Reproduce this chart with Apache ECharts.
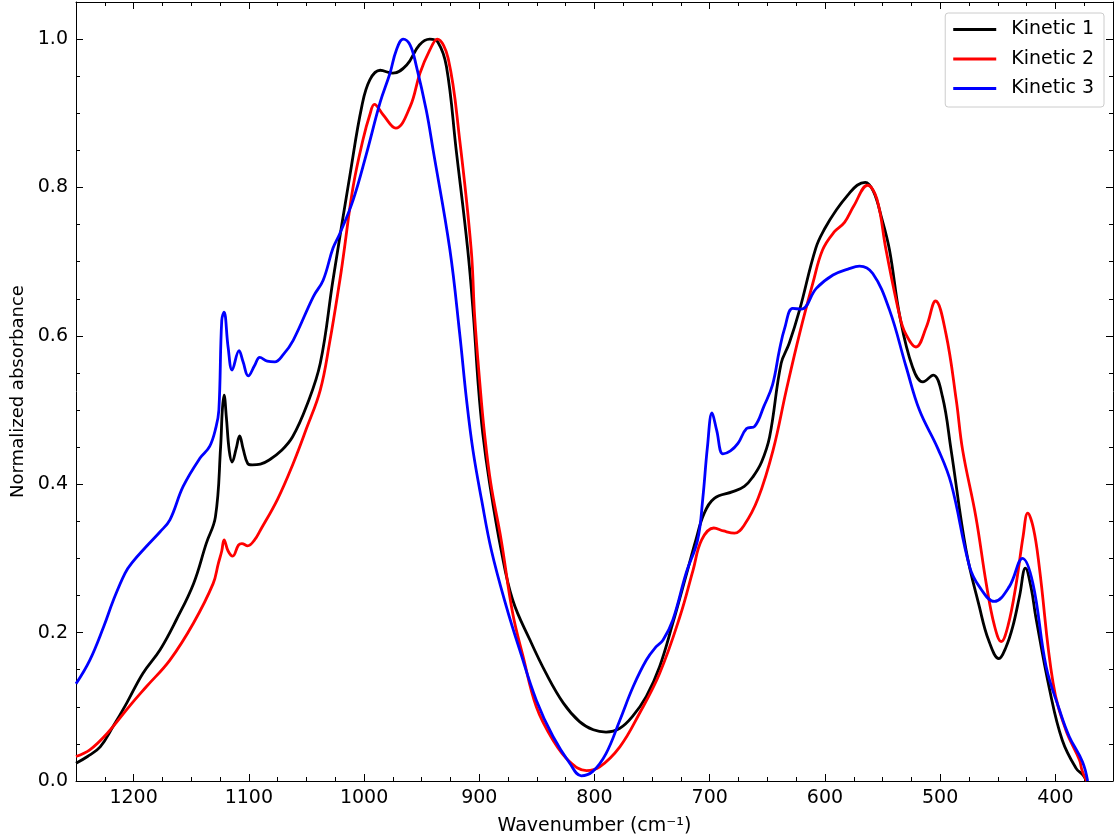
<!DOCTYPE html>
<html>
<head>
<meta charset="utf-8">
<script src="https://cdn.jsdelivr.net/npm/echarts@6/dist/echarts.min.js"></script>
<style>
  html, body { margin: 0; padding: 0; background: #fff; }
  #chart { width: 1116px; height: 840px; }
</style>
</head>
<body>
<div id="chart"></div>
<script>
// Kinetic 1 (black)
var k1Wn = [1250, 1240, 1229, 1218, 1206, 1192, 1177, 1163, 1148, 1137, 1129, 1124.5, 1123, 1121.5, 1119.5, 1117, 1114.5, 1111, 1108, 1105, 1101, 1097, 1090, 1082, 1072, 1062, 1050, 1038, 1027, 1012, 1002, 995, 986, 975, 963, 952, 943, 936, 928.5, 920, 910, 905, 901, 897, 891, 881, 871, 856, 842, 827, 813, 801, 790, 778, 767, 755, 743.5, 732, 720, 712, 705, 696, 680, 670, 662.5, 655, 648, 638, 631, 622, 608, 600, 590, 580, 572, 565, 558, 551, 544, 535, 524, 515, 506, 498, 490.5, 477.5, 466, 458, 449, 443, 437, 431, 426, 421, 417, 405, 394, 382, 376, 373];
var k1Abs = [0.024, 0.033, 0.046, 0.073, 0.105, 0.145, 0.177, 0.217, 0.266, 0.320, 0.356, 0.45, 0.50, 0.520, 0.49, 0.445, 0.430, 0.448, 0.465, 0.448, 0.428, 0.426, 0.427, 0.433, 0.445, 0.464, 0.505, 0.563, 0.675, 0.819, 0.909, 0.945, 0.958, 0.954, 0.965, 0.992, 1.0, 0.996, 0.963, 0.850, 0.716, 0.626, 0.536, 0.469, 0.401, 0.311, 0.244, 0.190, 0.145, 0.105, 0.080, 0.069, 0.066, 0.071, 0.087, 0.114, 0.154, 0.213, 0.280, 0.325, 0.360, 0.381, 0.390, 0.397, 0.410, 0.430, 0.464, 0.563, 0.590, 0.635, 0.718, 0.745, 0.770, 0.790, 0.803, 0.807, 0.795, 0.760, 0.716, 0.626, 0.558, 0.538, 0.547, 0.518, 0.446, 0.311, 0.235, 0.190, 0.165, 0.180, 0.208, 0.250, 0.287, 0.260, 0.221, 0.123, 0.055, 0.017, 0.008, 0.0];

// Kinetic 2 (red)
var k2Wn = [1250, 1238, 1223, 1203, 1189, 1168.5, 1148, 1131, 1126.5, 1123.5, 1121.5, 1118, 1114, 1109, 1106, 1101, 1095, 1090, 1075, 1061.5, 1050, 1038, 1030, 1021, 1018, 1009.5, 1001, 995, 991, 983.5, 972.5, 960, 951.5, 943, 936.5, 927, 917, 907, 904, 899.5, 895.5, 890, 881, 871, 862, 850.5, 836, 821.5, 807, 795.5, 778, 761, 743.5, 726, 714.5, 707, 696.5, 688, 678.5, 670, 658, 645, 633.5, 622, 610.5, 602, 592, 583, 575, 563, 555, 547, 535, 530, 521, 512, 504, 495, 486, 480.5, 469, 460, 453, 447, 441, 434, 428, 424, 419, 414, 402, 391, 379, 377, 373];
var k2Abs = [0.033, 0.042, 0.064, 0.102, 0.127, 0.163, 0.213, 0.266, 0.293, 0.310, 0.325, 0.310, 0.303, 0.318, 0.320, 0.317, 0.325, 0.338, 0.380, 0.428, 0.475, 0.527, 0.590, 0.675, 0.707, 0.801, 0.864, 0.898, 0.912, 0.898, 0.880, 0.909, 0.954, 0.985, 1.0, 0.974, 0.864, 0.716, 0.626, 0.536, 0.469, 0.401, 0.325, 0.226, 0.168, 0.100, 0.055, 0.026, 0.014, 0.019, 0.046, 0.091, 0.145, 0.221, 0.284, 0.325, 0.341, 0.337, 0.334, 0.345, 0.381, 0.446, 0.527, 0.603, 0.671, 0.716, 0.740, 0.753, 0.775, 0.803, 0.785, 0.716, 0.626, 0.603, 0.585, 0.612, 0.647, 0.603, 0.513, 0.446, 0.356, 0.266, 0.210, 0.188, 0.210, 0.266, 0.330, 0.361, 0.340, 0.289, 0.132, 0.069, 0.028, 0.015, 0.0];

// Kinetic 3 (blue)
var k3Wn = [1250, 1238, 1226, 1217.5, 1207.5, 1201.5, 1189, 1177, 1168.5, 1157, 1142.5, 1134, 1128.5, 1126, 1123.5, 1121.5, 1118, 1114.5, 1108.5, 1105, 1100.5, 1095, 1090.5, 1084, 1077.5, 1070, 1061.5, 1044, 1035.5, 1027, 1021, 1009.5, 998, 986, 977.5, 972, 966, 960, 954.5, 946, 940, 925.5, 917, 911, 905.5, 898, 889.5, 876.5, 865, 850.5, 836, 821.5, 811.5, 801.5, 790, 778, 766.5, 755, 746.5, 740.5, 732, 720.5, 710.5, 706, 702, 698, 694, 688.5, 682, 675.5, 668, 661, 653, 645.5, 639.5, 635, 628, 620.5, 607.5, 593, 580, 570, 558.5, 544, 529.5, 518, 502, 490.5, 474.5, 466, 453, 440, 428.5, 419.5, 408, 396.5, 388, 376.5, 372];
var k3Abs = [0.131, 0.163, 0.208, 0.244, 0.280, 0.294, 0.316, 0.336, 0.352, 0.397, 0.435, 0.451, 0.477, 0.500, 0.621, 0.632, 0.585, 0.554, 0.580, 0.565, 0.546, 0.560, 0.571, 0.566, 0.565, 0.575, 0.594, 0.653, 0.675, 0.718, 0.738, 0.783, 0.845, 0.915, 0.954, 0.985, 1.0, 0.992, 0.963, 0.904, 0.850, 0.716, 0.603, 0.513, 0.446, 0.379, 0.311, 0.235, 0.177, 0.109, 0.060, 0.024, 0.007, 0.013, 0.037, 0.082, 0.127, 0.163, 0.181, 0.190, 0.217, 0.280, 0.325, 0.381, 0.450, 0.496, 0.473, 0.441, 0.445, 0.455, 0.475, 0.478, 0.505, 0.534, 0.581, 0.610, 0.637, 0.636, 0.664, 0.682, 0.690, 0.694, 0.684, 0.635, 0.558, 0.500, 0.448, 0.401, 0.289, 0.262, 0.242, 0.262, 0.300, 0.266, 0.154, 0.096, 0.060, 0.026, 0.0];

var seriesNames = ['Kinetic 1', 'Kinetic 2', 'Kinetic 3'];
var seriesColors = ['#000000', '#ff0000', '#0000ff'];

// tick labels
var xTicks = [1200, 1100, 1000, 900, 800, 700, 600, 500, 400];
var yTicks = [0.0, 0.2, 0.4, 0.6, 0.8, 1.0];

var X_MIN = 350, X_MAX = 1250, Y_MIN = 0, Y_MAX = 1.05;

function pairs(xs, ys) {
  return xs.map(function (x, i) { return [x, ys[i]]; });
}

// minor tick positions (25 cm-1 / 0.05 steps, skipping the major ones)
var xMinor = [];
for (var v = 375; v < X_MAX; v += 25) {
  if (v % 100 !== 0) xMinor.push(v);
}
var yMinor = [];
for (var j = 1; j <= 20; j++) {
  if (j % 4 !== 0) yMinor.push(Math.round(j * 5) / 100);
}

var FONT = 'DejaVu Sans';

function xAx(pos, vals, len, withLine, withLabel) {
  return {
    type: 'value', position: pos, min: X_MIN, max: X_MAX, inverse: true,
    splitLine: { show: false },
    axisLine: { show: withLine, onZero: false, lineStyle: { color: '#000', width: 1 } },
    axisTick: { show: true, inside: true, length: len, customValues: vals, lineStyle: { color: '#000', width: 1 } },
    axisLabel: {
      show: withLabel, customValues: vals, margin: 8,
      color: '#000', fontSize: 19, fontFamily: FONT,
      formatter: function (val) { return String(val); }
    }
  };
}

function yAx(pos, vals, len, withLine, withLabel) {
  return {
    type: 'value', position: pos, min: Y_MIN, max: Y_MAX,
    splitLine: { show: false },
    axisLine: { show: withLine, onZero: false, lineStyle: { color: '#000', width: 1 } },
    axisTick: { show: true, inside: true, length: len, customValues: vals, lineStyle: { color: '#000', width: 1 } },
    axisLabel: {
      show: withLabel, customValues: vals, margin: 8,
      color: '#000', fontSize: 19, fontFamily: FONT,
      formatter: function (val) { return val.toFixed(1); }
    }
  };
}

var xMain = xAx('bottom', xTicks, 7, true, true);
xMain.name = 'Wavenumber (cm\u207B\u00B9)';
xMain.nameLocation = 'middle';
xMain.nameGap = 36;
xMain.nameTextStyle = { color: '#000', fontSize: 19, fontFamily: FONT };

var yMain = yAx('left', yTicks, 7, true, true);
yMain.name = 'Normalized absorbance';
yMain.nameLocation = 'middle';
yMain.nameGap = 47;
yMain.nameTextStyle = { color: '#000', fontSize: 18, fontFamily: FONT };

var allWn = [k1Wn, k2Wn, k3Wn];
var allAbs = [k1Abs, k2Abs, k3Abs];

var chart = echarts.init(document.getElementById('chart'), null, { renderer: 'canvas' });
chart.setOption({
  animation: false,
  backgroundColor: '#ffffff',
  textStyle: { fontFamily: FONT },
  grid: { left: 76, right: 3, top: 2, bottom: 59, containLabel: false, outerBoundsMode: 'none' },
  legend: {
    orient: 'vertical', right: 12, top: 13,
    icon: 'rect',
    itemWidth: 43, itemHeight: 3, itemGap: 8.5,
    padding: [6, 10, 8, 8],
    borderColor: '#cccccc', borderWidth: 1, borderRadius: 3,
    backgroundColor: 'rgba(255,255,255,0.8)',
    textStyle: { color: '#000', fontSize: 19, fontFamily: FONT, padding: [0, 0, 0, 10], lineHeight: 21 },
    data: seriesNames
  },
  xAxis: [
    xMain,
    xAx('bottom', xMinor, 4, false, false),
    xAx('top', xTicks, 7, true, false),
    xAx('top', xMinor, 4, false, false)
  ],
  yAxis: [
    yMain,
    yAx('left', yMinor, 4, false, false),
    yAx('right', yTicks, 7, true, false),
    yAx('right', yMinor, 4, false, false)
  ],
  series: seriesNames.map(function (name, i) {
    return {
      name: name,
      type: 'line',
      xAxisIndex: 0,
      yAxisIndex: 0,
      symbol: 'none',
      smooth: 0.4,
      lineStyle: { color: seriesColors[i], width: 2.8 },
      itemStyle: { color: seriesColors[i] },
      data: pairs(allWn[i], allAbs[i])
    };
  })
});
</script>
</body>
</html>
